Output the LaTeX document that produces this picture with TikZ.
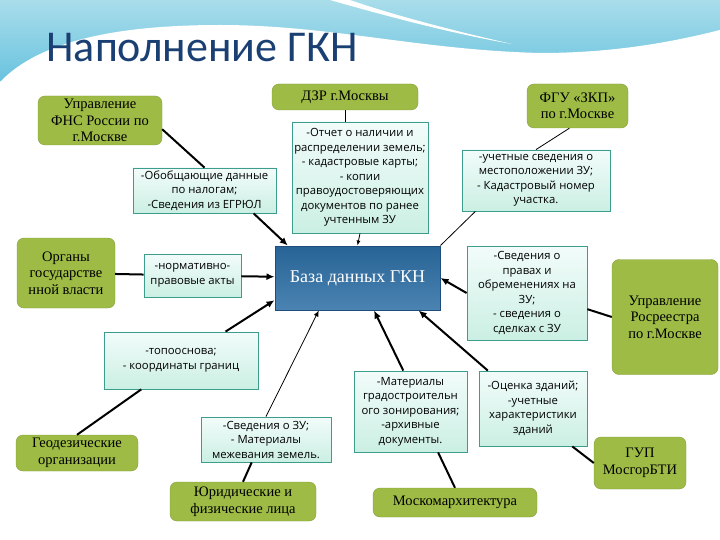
\documentclass[tikz,border=0pt]{standalone}
\usepackage{fontspec}
\setmainfont{Liberation Serif}
\newfontfamily\boxfont{Open Sans}
\newfontfamily\titlefont{Carlito}
\usetikzlibrary{arrows.meta}

\definecolor{orggreen}{HTML}{9DBB45}
\definecolor{infoedge}{HTML}{3C9C8E}
\definecolor{infotop}{HTML}{F2FCFA}
\definecolor{infobot}{HTML}{CBEFE3}
\definecolor{dbfill}{HTML}{2B6EA5}
\definecolor{dbedge}{HTML}{1E4D7A}
\definecolor{titleblue}{HTML}{1A3F73}
\definecolor{skytop}{HTML}{A9DDEA}
\definecolor{skybot}{HTML}{62C0DE}

\tikzset{
  org/.style={rounded corners=7pt, fill=orggreen, draw=orggreen!85!black, line width=0.4pt,
    align=center, inner sep=1pt, font=\fontsize{14.5}{16.5}\selectfont},
  info/.style={draw=infoedge, line width=0.8pt, top color=infotop, bottom color=infobot,
    align=center, inner sep=1pt, font=\boxfont\fontsize{11.3}{14.5}\selectfont},
  gkn/.style={draw=dbedge, line width=1pt, top color=dbfill!90!black, bottom color=dbfill!85!white,
    text=white, align=center, font=\fontsize{18}{20}\selectfont},
  link/.style={line width=2pt},
  thinlink/.style={line width=0.8pt},
  feed/.style={link, -{Latex[length=8pt,width=7pt]}},
  thinfeed/.style={thinlink, -{Latex[length=5pt,width=4pt]}}
}

\begin{document}
\begin{tikzpicture}[x=1pt,y=-1pt]
\useasboundingbox (0,0) rectangle (720,540);
\fill[top color=skytop, bottom color=skybot] (0,0) rectangle (720,90);
\fill[white] (0,90) -- (0,82) .. controls (40,40) and (120,25) .. (220,25)
  .. controls (330,25) and (420,50) .. (540,53) .. controls (620,53) and (680,40) .. (720,30)
  -- (720,90) -- cycle;
\fill[white] (330,0) .. controls (400,20) and (460,35) .. (512,44)
  .. controls (450,30) and (390,14) .. (350,0) -- cycle;

\node[anchor=base west, text=titleblue, font=\titlefont\fontsize{44}{44}\selectfont] (title) at (43,62) {Наполнение ГКН};

\node[gkn, minimum width=165, minimum height=64] (db) at (357.5,278) {База данных ГКН};

\node[org, minimum width=124, minimum height=49] (fns) at (100,120.5) {Управление\\ФНС России по\\г.Москве};
\node[org, minimum width=146, minimum height=26] (dzr) at (345,97) {ДЗР г.Москвы};
\node[org, minimum width=101, minimum height=44] (fgu) at (577.5,106) {ФГУ «ЗКП»\\по г.Москве};
\node[org, minimum width=98, minimum height=70] (organy) at (66,273) {Органы\\государстве\\нной власти};
\node[org, minimum width=106, minimum height=115] (ros) at (665,317) {Управление\\Росреестра\\по г.Москве};
\node[org, minimum width=122, minimum height=36] (geo) at (77,453) {Геодезические\\организации};
\node[org, minimum width=146, minimum height=39] (jur) at (243,501.5) {Юридические и\\физические лица};
\node[org, minimum width=164, minimum height=29] (mosk) at (455,502.5) {Москомархитектура};
\node[org, minimum width=92, minimum height=52] (gup) at (640,463) {ГУП\\МосгорБТИ};

\node[info, minimum width=143, minimum height=45] (nalog) at (204.5,190.5) {-Обобщающие данные\\по налогам;\\-Сведения из ЕГРЮЛ};
\node[info, minimum width=136, minimum height=111] (otchet) at (360,177.5) {-Отчет о наличии и\\распределении земель;\\- кадастровые карты;\\- копии\\правоудостоверяющих\\документов по ранее\\учтенным ЗУ};
\node[info, minimum width=148, minimum height=61] (uchet) at (536,180.5) {-учетные сведения о\\местоположении ЗУ;\\- Кадастровый номер\\участка.};
\node[info, minimum width=97, minimum height=43] (akty) at (192.5,275.5) {-нормативно-\\правовые акты};
\node[info, minimum width=120, minimum height=94] (prava) at (527,293) {-Сведения о\\правах и\\обременениях на\\ЗУ;\\- сведения о\\сделках с ЗУ};
\node[info, minimum width=154, minimum height=57] (topo) at (181,360.5) {-топооснова;\\- координаты границ};
\node[info, minimum width=130, minimum height=45] (mezh) at (266,439.5) {-Сведения о ЗУ;\\- Материалы\\межевания земель.};
\node[info, minimum width=113, minimum height=81] (grad) at (410.5,411.5) {-Материалы\\градостроительн\\ого зонирования;\\-архивные\\документы.};
\node[info, minimum width=108, minimum height=75] (ocenka) at (533,408.5) {-Оценка зданий;\\-учетные\\характеристики\\зданий};

\draw[link] (fns.-8) -- (nalog.north);
\draw[feed] (nalog.-25) -- (db.155);
\draw[thinlink] (dzr.south) -- (dzr.south |- otchet.north);
\draw[thinfeed] (otchet.south) -- (db.north);
\draw[thinlink] (fgu.-110) -- (uchet.north);
\draw[thinlink] (uchet.-153) -- (db.north east);
\draw[link] (organy) -- (akty);
\draw[feed] (akty) -- (db);
\draw[link] (ros.west) -- (prava.-15);
\draw[feed] (prava.west) -- (db.east);
\draw[link] (geo.north) -- (topo.-144);
\draw[feed] (topo.33) -- (db.-165);
\draw[link] (jur.north) -- (mezh.-122);
\draw[thinlink, -{Latex[length=6pt,width=5pt]}] (mezh.north) -- (db.-140);
\draw[link] (mosk.north) -- (grad.-56);
\draw[feed] (grad.100) -- (db.-63);
\draw[link] (gup.west) -- (ocenka.-44);
\draw[feed] (ocenka.140) -- (db.-28);
\end{tikzpicture}
\end{document}
